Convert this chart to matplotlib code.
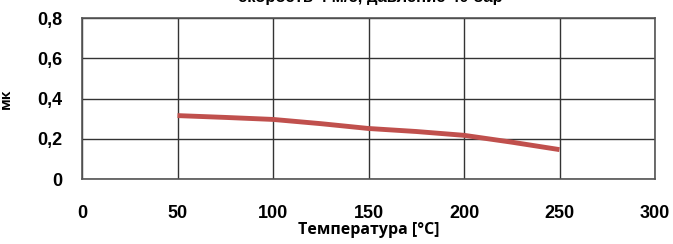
import matplotlib
matplotlib.use("Agg")
import matplotlib.pyplot as plt

temperature = [50, 75, 100, 125, 150, 175, 200, 225, 250]
friction = [0.315, 0.306, 0.296, 0.275, 0.251, 0.236, 0.217, 0.183, 0.146]
xticks = [0, 50, 100, 150, 200, 250, 300]
yticks = [0, 0.2, 0.4, 0.6, 0.8]
ytick_labels = ["0", "0,2", "0,4", "0,6", "0,8"]

fig = plt.figure(figsize=(6.73, 2.44), dpi=100)
ax = fig.add_axes([82 / 673, 1 - 179 / 244, (655 - 82) / 673, (179 - 18) / 244])

ax.plot(temperature, friction, color="#c0504d", lw=3.5, solid_capstyle="butt")

ax.set_xlim(0, 300)
ax.set_ylim(0, 0.8)
ax.set_xticks(xticks)
ax.set_yticks(yticks)
ax.set_yticklabels(ytick_labels)
ax.grid(True, color="#333333", lw=1)
ax.set_axisbelow(True)
for s in ax.spines.values():
    s.set_color("#555555")
    s.set_linewidth(1.2)
ax.tick_params(length=0, labelsize=13)
ax.tick_params(axis="x", pad=19)
ax.tick_params(axis="y", pad=14)
for lab in ax.get_xticklabels() + ax.get_yticklabels():
    lab.set_fontfamily("Liberation Sans")
    lab.set_fontweight("bold")

ax.set_xlabel("Температура [°C]", fontfamily="Open Sans", fontweight="bold",
              fontsize=11.5)
ax.set_ylabel("мк", fontfamily="Open Sans", fontweight="bold", fontsize=10)
ax.yaxis.set_label_coords(-0.12, 0.5)
ax.xaxis.set_label_coords(0.5, -0.27)

fig.text(0.55, 1.01, "скорость 4 м/с, давление 40 бар", ha="center", va="center",
         fontfamily="Liberation Sans", fontweight="bold", fontsize=12)

fig.savefig("out.png", dpi=100)
